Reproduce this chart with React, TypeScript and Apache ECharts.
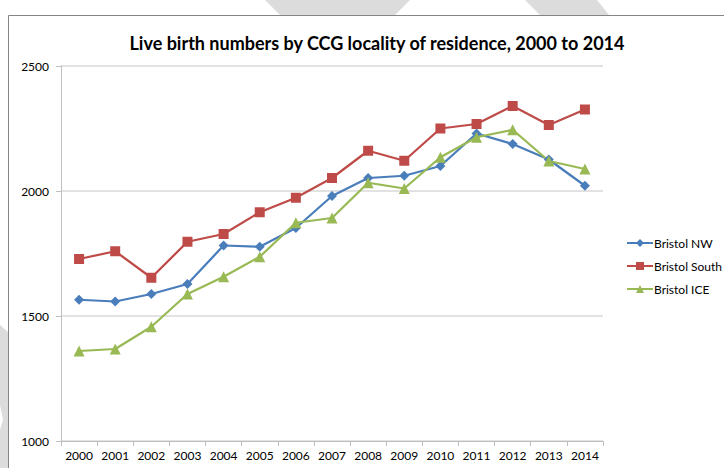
import React, { useEffect, useRef } from "react";
import * as echarts from "echarts";

const years = ["2000","2001","2002","2003","2004","2005","2006","2007","2008","2009","2010","2011","2012","2013","2014"];
const bristolNW = [1565, 1558, 1588, 1628, 1782, 1777, 1852, 1980, 2052, 2061, 2100, 2230, 2188, 2126, 2021];
const bristolSouth = [1728, 1759, 1653, 1797, 1828, 1915, 1973, 2052, 2161, 2121, 2250, 2268, 2340, 2264, 2326];
const bristolICE = [1360, 1368, 1457, 1588, 1657, 1737, 1873, 1892, 2033, 2010, 2135, 2215, 2245, 2120, 2088];
const seriesNames = ["Bristol NW", "Bristol South", "Bristol ICE"];
const titleText = "Live birth numbers by CCG locality of residence, 2000 to 2014";

export default function App() {
  const ref = useRef<HTMLDivElement>(null);
  useEffect(() => {
    document.body.style.margin = "0";
    const chart = echarts.init(ref.current!, null, { renderer: "svg" });
    const font = "Lato, 'Open Sans', sans-serif";
    const mk = (name: string, data: number[], color: string, symbol: string, size: number) => ({
      name,
      type: "line",
      data,
      symbol,
      symbolSize: size,
      showSymbol: true,
      lineStyle: { color, width: 2.25 },
      itemStyle: { color },
    });
    chart.setOption({
      animation: false,
      backgroundColor: "#ffffff",
      textStyle: { fontFamily: font },
      title: {
        text: titleText,
        left: 372,
        top: 29,
        textAlign: "center",
        textStyle: { fontFamily: font, fontSize: 18, fontWeight: "bold", color: "#000" },
      },
      graphic: [
        { type: "polygon", z: -10, shape: { points: [[265, 0], [410, 0], [395, 15], [280, 15]] }, style: { fill: "#dcdcdc" } },
        { type: "polygon", z: -10, shape: { points: [[525, 0], [597, 0], [609, 15], [540, 15]] }, style: { fill: "#dcdcdc" } },
        { type: "polygon", z: -10, shape: { points: [[0, 325], [8, 332], [8, 468], [0, 468], [0, 430], [3, 420], [0, 405]] }, style: { fill: "#dcdcdc" } },
        { type: "rect", z: -5, shape: { x: 8.5, y: 15.5, width: 800, height: 500 }, style: { fill: "#ffffff", stroke: "#858585", lineWidth: 1 } },
      ],
      legend: {
        orient: "vertical",
        left: 621,
        top: 232,
        itemWidth: 26,
        itemHeight: 10,
        itemGap: 11,
        data: seriesNames,
        textStyle: { fontFamily: font, fontSize: 12, color: "#000", padding: [0, 0, 0, -4] },
      },
      grid: { left: 61, right: 121, top: 66, bottom: 27, containLabel: false },
      xAxis: {
        type: "category",
        data: years,
        boundaryGap: true,
        axisLine: { lineStyle: { color: "#bfbfbf", width: 1 } },
        axisTick: { show: true, length: 5, lineStyle: { color: "#bfbfbf" } },
        axisLabel: { fontFamily: font, fontSize: 12, color: "#000", margin: 8, interval: 0 },
      },
      yAxis: {
        type: "value",
        min: 1000,
        max: 2500,
        interval: 500,
        axisLine: { show: true, lineStyle: { color: "#bfbfbf", width: 1 } },
        axisTick: { show: true, length: 5, lineStyle: { color: "#bfbfbf" } },
        axisLabel: { fontFamily: font, fontSize: 12, color: "#000", margin: 12, formatter: (v: number) => String(v) },
        splitLine: { lineStyle: { color: "#d9d9d9", width: 1.5 } },
      },
      series: [
        mk(seriesNames[0], bristolNW, "#4a7ebb", "diamond", 10),
        mk(seriesNames[1], bristolSouth, "#be4b48", "rect", 10),
        mk(seriesNames[2], bristolICE, "#98b954", "triangle", 11),
      ],
    });
    return () => chart.dispose();
  }, []);
  return <div ref={ref} style={{ width: 724, height: 468 }} />;
}
